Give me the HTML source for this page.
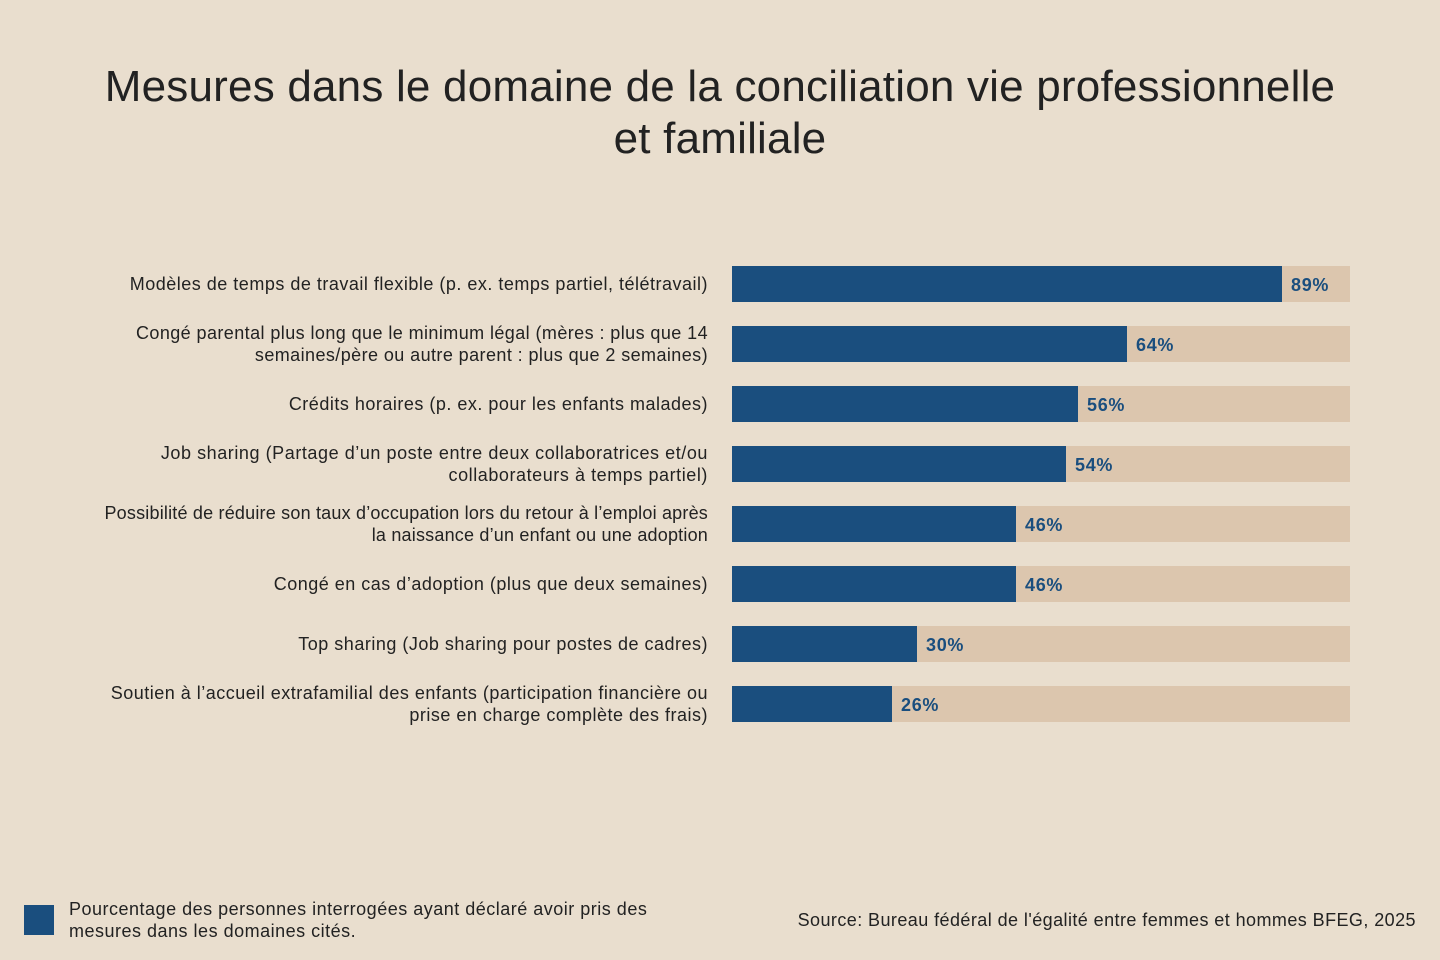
<!DOCTYPE html>
<html><head><meta charset="utf-8">
<style>
html,body{margin:0;padding:0;}
body{width:1440px;height:960px;background:#E9DECE;position:relative;overflow:hidden;font-family:"Liberation Sans",Arial,sans-serif;color:#222;}
.title{position:absolute;left:0;top:61px;width:1440px;text-align:center;font-size:44px;line-height:52px;color:#222;letter-spacing:0.2px;}
.lab{position:absolute;right:732px;width:700px;text-align:right;font-size:18px;line-height:22px;color:#222;letter-spacing:0.5px;}
.track{position:absolute;left:732px;width:618px;height:36px;background:#DCC6AE;}
.bar{position:absolute;left:0;top:0;height:36px;background:#1A4E7E;}
.val{position:absolute;top:1px;line-height:36px;font-size:18px;font-weight:bold;color:#1A4E7E;letter-spacing:0.7px;}
.leg{position:absolute;left:24px;top:905px;width:30px;height:30px;background:#1A4E7E;}
.legt{position:absolute;left:69px;top:898px;font-size:18px;line-height:22px;letter-spacing:0.5px;}
.src{position:absolute;right:24px;top:909px;font-size:18px;line-height:22px;letter-spacing:0.43px;}
</style></head><body>
<div class="title">Mesures dans le domaine de la conciliation vie professionnelle<br>et familiale</div>

<div class="lab" style="top:273px">Modèles de temps de travail flexible (p. ex. temps partiel, télétravail)</div>
<div class="lab" style="top:322px;letter-spacing:0.42px">Congé parental plus long que le minimum légal (mères : plus que 14<br>semaines/père ou autre parent : plus que 2 semaines)</div>
<div class="lab" style="top:393px">Crédits horaires (p. ex. pour les enfants malades)</div>
<div class="lab" style="top:442px;letter-spacing:0.56px">Job sharing (Partage d’un poste entre deux collaboratrices et/ou<br>collaborateurs à temps partiel)</div>
<div class="lab" style="top:502px;letter-spacing:0.2px">Possibilité de réduire son taux d’occupation lors du retour à l’emploi après<br>la naissance d’un enfant ou une adoption</div>
<div class="lab" style="top:573px">Congé en cas d’adoption (plus que deux semaines)</div>
<div class="lab" style="top:633px">Top sharing (Job sharing pour postes de cadres)</div>
<div class="lab" style="top:682px">Soutien à l’accueil extrafamilial des enfants (participation financière ou<br>prise en charge complète des frais)</div>

<div class="track" style="top:266px"><div class="bar" style="width:550px"></div><div class="val" style="left:559px">89%</div></div>
<div class="track" style="top:326px"><div class="bar" style="width:395px"></div><div class="val" style="left:404px">64%</div></div>
<div class="track" style="top:386px"><div class="bar" style="width:346px"></div><div class="val" style="left:355px">56%</div></div>
<div class="track" style="top:446px"><div class="bar" style="width:334px"></div><div class="val" style="left:343px">54%</div></div>
<div class="track" style="top:506px"><div class="bar" style="width:284px"></div><div class="val" style="left:293px">46%</div></div>
<div class="track" style="top:566px"><div class="bar" style="width:284px"></div><div class="val" style="left:293px">46%</div></div>
<div class="track" style="top:626px"><div class="bar" style="width:185px"></div><div class="val" style="left:194px">30%</div></div>
<div class="track" style="top:686px"><div class="bar" style="width:160px"></div><div class="val" style="left:169px">26%</div></div>

<div class="leg"></div>
<div class="legt">Pourcentage des personnes interrogées ayant déclaré avoir pris des<br>mesures dans les domaines cités.</div>
<div class="src">Source: Bureau fédéral de l'égalité entre femmes et hommes BFEG, 2025</div>
</body></html>
